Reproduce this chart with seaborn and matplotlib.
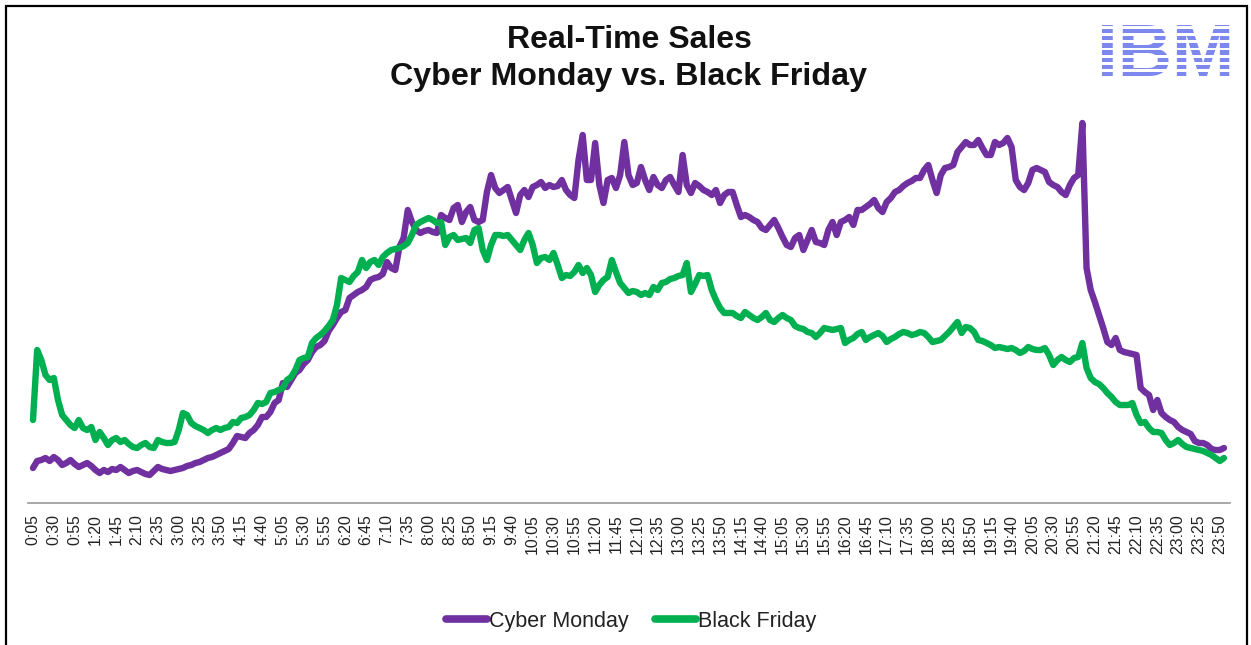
import numpy as np
import pandas as pd
import matplotlib
matplotlib.use("Agg")
import matplotlib.pyplot as plt
import seaborn as sns
from matplotlib.patches import Rectangle
from matplotlib.lines import Line2D

# ---------------- data (5-minute intervals, 0:05 .. 23:55) ----------------
cyber_monday = [
    35, 42, 43, 45, 42, 46, 43, 38, 40, 43,
    39, 36, 38, 40, 37, 33, 30, 33, 31, 34,
    33, 36, 33, 30, 32, 33, 31, 29, 28, 32,
    36, 34, 33, 32, 33, 34, 35, 37, 38, 40,
    41, 43, 45, 46, 48, 50, 52, 54, 60, 67,
    66, 65, 70, 73, 78, 86, 86, 91, 100, 103,
    120, 116, 123, 130, 133, 139, 143, 151, 156, 158,
    162, 172, 178, 185, 191, 193, 205, 208, 211, 213,
    216, 223, 225, 226, 229, 241, 235, 233, 256, 265,
    293, 281, 273, 270, 272, 273, 271, 270, 288, 285,
    283, 295, 298, 281, 291, 296, 283, 281, 283, 311,
    328, 315, 310, 313, 316, 303, 290, 308, 313, 306,
    316, 318, 321, 315, 318, 316, 317, 323, 313, 308,
    305, 343, 368, 323, 323, 360, 318, 300, 323, 325,
    315, 328, 361, 328, 318, 320, 336, 323, 313, 326,
    318, 315, 323, 326, 318, 311, 348, 318, 310, 320,
    317, 313, 311, 308, 313, 300, 308, 311, 311, 298,
    286, 288, 286, 283, 281, 275, 273, 278, 283, 275,
    266, 258, 256, 265, 268, 253, 263, 273, 261, 260,
    258, 273, 281, 268, 281, 283, 286, 278, 293, 293,
    296, 299, 303, 295, 291, 301, 305, 311, 313, 317,
    320, 322, 325, 325, 333, 338, 323, 310, 328, 335,
    336, 338, 351, 356, 361, 358, 358, 363, 355, 348,
    348, 361, 358, 360, 365, 356, 323, 316, 313, 320,
    333, 335, 333, 331, 321, 318, 316, 311, 308, 318,
    325, 328, 380, 235, 213, 201, 188, 175, 161, 158,
    165, 153, 151, 150, 149, 148, 115, 111, 108, 93,
    103, 90, 86, 83, 81, 76, 73, 71, 69, 62,
    60, 60, 58, 54, 53, 53, 55,
]

black_friday = [
    83, 153, 143, 128, 123, 125, 103, 88, 83, 78,
    75, 83, 75, 73, 76, 63, 71, 65, 58, 63,
    65, 61, 63, 59, 56, 55, 58, 60, 56, 55,
    63, 61, 60, 60, 61, 73, 90, 88, 80, 77,
    75, 73, 70, 73, 75, 73, 75, 76, 81, 80,
    85, 86, 88, 93, 100, 99, 101, 110, 111, 113,
    115, 123, 126, 133, 143, 145, 146, 160, 165, 168,
    172, 177, 183, 198, 225, 223, 221, 227, 231, 243,
    235, 241, 243, 238, 246, 250, 253, 254, 255, 257,
    260, 268, 278, 281, 283, 285, 283, 280, 281, 258,
    266, 268, 263, 264, 265, 260, 273, 275, 253, 243,
    258, 268, 268, 267, 268, 263, 258, 253, 263, 270,
    258, 240, 245, 246, 243, 250, 238, 225, 228, 227,
    231, 238, 230, 235, 228, 211, 218, 223, 226, 243,
    231, 220, 215, 210, 212, 211, 208, 210, 208, 216,
    213, 220, 221, 224, 225, 227, 228, 240, 211, 219,
    228, 227, 228, 213, 203, 195, 190, 190, 190, 187,
    185, 191, 188, 185, 183, 186, 190, 183, 181, 185,
    188, 185, 183, 177, 175, 174, 171, 170, 166, 170,
    175, 174, 173, 174, 175, 160, 163, 165, 169, 171,
    163, 166, 168, 170, 167, 161, 164, 166, 169, 171,
    170, 168, 169, 171, 170, 166, 161, 162, 163, 167,
    171, 176, 181, 170, 176, 175, 171, 163, 162, 160,
    158, 155, 156, 155, 154, 155, 153, 150, 152, 156,
    154, 153, 153, 155, 148, 138, 143, 146, 143, 141,
    145, 146, 160, 135, 125, 121, 119, 115, 110, 106,
    101, 98, 98, 98, 100, 88, 80, 81, 75, 71,
    71, 70, 63, 58, 60, 63, 59, 56, 55, 54,
    53, 52, 50, 48, 45, 42, 45,
]

times = [f"{(5 + 5 * k) // 60}:{(5 + 5 * k) % 60:02d}" for k in range(len(cyber_monday))]
series_names = ["Cyber Monday", "Black Friday"]
series_colors = ["#7030A0", "#00B050"]
title_lines = ["Real-Time Sales", "Cyber Monday vs. Black Friday"]
logo_text = "IBM"

df = pd.DataFrame({
    "idx": list(range(len(times))) * 2,
    "value": cyber_monday + black_friday,
    "series": [series_names[0]] * len(times) + [series_names[1]] * len(times),
})

# ---------------- figure ----------------
sns.set_theme(style="white")
plt.rcParams["font.family"] = ["Liberation Sans", "DejaVu Sans"]

W, H = 1251, 645
fig = plt.figure(figsize=(W / 100, H / 100), dpi=100)
fig.patch.set_facecolor("white")
ax = fig.add_axes([28 / W, (H - 503) / H, (1230 - 28) / W, (503 - 110) / H])

sns.lineplot(
    data=df, x="idx", y="value", hue="series",
    palette=dict(zip(series_names, series_colors)),
    linewidth=4.6, ax=ax, legend=False, estimator=None, sort=False,
)
lines = ax.get_lines()
for ln in lines:
    ln.set_solid_capstyle("round")
    ln.set_solid_joinstyle("round")
if len(lines) >= 2:
    lines[1].set_zorder(3)
    lines[0].set_zorder(2)

ax.set_xlim(-1.2, len(times) - 1 + 1.45)
ax.set_ylim(0, 393)
ax.set_xlabel("")
ax.set_ylabel("")
ax.set_yticks([])
tick_pos = list(range(0, len(times), 5))
ax.set_xticks(tick_pos)
ax.set_xticklabels([times[i] for i in tick_pos], rotation=90, fontsize=11.4, color="#222222")
ax.tick_params(axis="x", length=0, pad=8)
for s in ["left", "right", "top"]:
    ax.spines[s].set_visible(False)
ax.spines["bottom"].set_color("#999999")
ax.spines["bottom"].set_linewidth(1.2)
ax.set_facecolor("white")

# title
fig.text(629 / W, 1 - 40 / H, title_lines[0], ha="center", va="center",
         fontsize=23, fontweight="bold", color="#111111")
fig.text(629 / W, 1 - 77 / H, title_lines[1], ha="center", va="center",
         fontsize=23.2, fontweight="bold", color="#111111")

# legend
handles = [Line2D([0], [0], color=c, lw=5.5, solid_capstyle="round") for c in series_colors]
leg = fig.legend(handles, series_names, loc="center", bbox_to_anchor=(631 / W, 1 - 621 / H),
                 ncol=2, frameon=False, fontsize=15.5, handlelength=1.9,
                 handletextpad=0.1, columnspacing=1.2)
for t in leg.get_texts():
    t.set_color("#222222")

# IBM logo: heavy text with white horizontal stripes over it
lx0, lx1, ly_top, ly_bot = 1097, 1235, 22, 76
fig.text(lx0 / W, 1 - ly_bot / H, logo_text, ha="left", va="baseline",
         fontsize=54, fontweight="bold", family="Liberation Sans",
         color="#7C88EE", zorder=5)
n_stripes = 8
gap_frac = 0.40
period = (ly_bot - ly_top) / (n_stripes - gap_frac)
for k in range(n_stripes - 1):
    g_top = ly_top + period * (k + 1) - period * gap_frac
    fig.add_artist(Rectangle(((lx0 - 5) / W, 1 - (g_top + period * gap_frac) / H),
                             (lx1 - lx0 + 12) / W, period * gap_frac / H,
                             facecolor="white", edgecolor="none",
                             transform=fig.transFigure, zorder=6))

# frame border
fig.add_artist(Rectangle((6 / W, -0.05), (1247 - 6) / W, (1 - 6 / H) + 0.05,
                         fill=False, edgecolor="black", linewidth=1.6,
                         transform=fig.transFigure, zorder=10))

fig.savefig("out.png", dpi=100, facecolor="white")
